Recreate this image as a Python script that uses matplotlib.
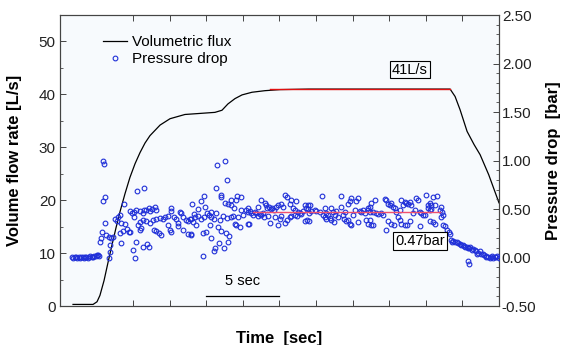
import matplotlib
matplotlib.use('Agg')
import matplotlib.pyplot as plt
from matplotlib.lines import Line2D
from matplotlib.ticker import MultipleLocator, FixedLocator, FormatStrFormatter, NullFormatter

plt.rcParams['font.family'] = ['Liberation Sans', 'DejaVu Sans']

# ---- Volumetric flux (L/s) vs time (s) ----
flux_t = [0.89, 1.50, 2.26, 2.53, 2.73, 3.01, 3.28, 3.55, 3.83, 4.10, 4.44, 4.78, 5.13, 5.47,
          5.81, 6.15, 6.84, 7.52, 8.54, 9.57, 10.59, 11.07, 11.48, 11.96, 12.44, 13.12, 14.01,
          15.04, 17.00, 19.80, 23.00, 26.66, 27.00, 27.34, 27.82, 28.30, 28.71, 29.30, 30.00]
flux_v = [0.3, 0.3, 0.3, 0.8, 2.0, 4.8, 8.2, 11.5, 14.8, 17.8, 21.2, 24.3, 26.9, 29.0,
          30.8, 32.2, 34.2, 35.4, 36.2, 36.4, 36.6, 37.0, 38.2, 39.2, 39.9, 40.4, 40.7,
          40.9, 41.0, 41.0, 41.0, 41.0, 39.6, 37.1, 33.0, 30.5, 28.6, 24.8, 19.5]
flux_fit_t = [14.35, 26.66]
flux_fit_v = [41.0, 41.0]

# ---- Pressure drop (bar) vs time (s), (t, p) pairs ----
press_base = [(0.82, 0.01), (0.91, 0.00), (1.00, 0.01), (1.09, 0.01), (1.18, 0.00), (1.27, 0.01),
              (1.36, 0.00), (1.45, 0.01), (1.54, 0.01), (1.63, 0.00), (1.72, 0.01), (1.81, 0.01),
              (1.90, 0.00), (1.99, 0.01), (2.08, 0.02), (2.17, 0.01), (2.26, 0.01), (2.35, 0.02),
              (2.44, 0.02), (2.53, 0.03), (2.62, 0.03), (2.70, 0.02)]
press_rise = [(2.94, 1.00), (3.01, 0.96), (3.05, 0.62), (2.92, 0.58), (3.10, 0.36), (2.87, 0.26),
              (2.78, 0.20), (2.71, 0.16), (3.16, 0.23), (3.33, 0.21), (3.51, 0.20), (3.62, 0.21),
              (3.44, 0.13), (3.40, 0.06), (3.33, -0.01), (3.74, 0.40), (3.90, 0.38), (3.96, 0.42),
              (4.08, 0.44), (4.19, 0.36), (4.37, 0.55), (4.46, 0.35), (4.60, 0.29), (4.72, 0.26),
              (4.19, 0.15), (4.31, 0.27), (4.12, 0.25)]
press_early = [(5.26, 0.69), (5.74, 0.72), (4.76, 0.48), (4.92, 0.46), (5.06, 0.42), (5.22, 0.49),
               (5.45, 0.48), (5.68, 0.46), (5.90, 0.49), (6.06, 0.51), (6.29, 0.50), (6.47, 0.52),
               (6.59, 0.49), (5.74, 0.49), (6.13, 0.48), (5.06, 0.47), (5.45, 0.37), (5.68, 0.39),
               (5.90, 0.38), (6.13, 0.36), (6.36, 0.39), (6.59, 0.40), (6.81, 0.41), (7.04, 0.40),
               (7.16, 0.42), (7.38, 0.43), (7.56, 0.51), (7.61, 0.48), (7.79, 0.42), (7.95, 0.40),
               (8.07, 0.36), (8.18, 0.47), (8.29, 0.46), (8.41, 0.42), (8.64, 0.39), (8.75, 0.38),
               (8.86, 0.40), (5.33, 0.34), (5.56, 0.30), (5.45, 0.28), (6.43, 0.28), (6.59, 0.27),
               (6.74, 0.25), (6.93, 0.23), (7.38, 0.34), (7.50, 0.28), (7.61, 0.26), (8.07, 0.32),
               (8.41, 0.28), (8.75, 0.24), (4.76, 0.26), (5.22, 0.16), (5.68, 0.11), (5.97, 0.14),
               (6.06, 0.11), (4.99, 0.08), (5.15, -0.01)]
press_mid = [(11.30, 1.00), (10.75, 0.95), (11.44, 0.80), (10.68, 0.72), (9.02, 0.55), (9.84, 0.63),
             (9.66, 0.58), (9.43, 0.50), (9.93, 0.52), (11.03, 0.64), (10.98, 0.62), (11.71, 0.59),
             (12.12, 0.63), (12.39, 0.62), (11.26, 0.56), (11.48, 0.55), (11.67, 0.54), (12.05, 0.59),
             (11.87, 0.51), (12.39, 0.49), (12.73, 0.49), (12.85, 0.47), (10.07, 0.46), (10.34, 0.47),
             (10.68, 0.46), (9.16, 0.45), (9.25, 0.42), (9.43, 0.43), (8.93, 0.40), (9.09, 0.37),
             (9.32, 0.34), (9.66, 0.40), (9.84, 0.42), (10.16, 0.44), (10.34, 0.42), (10.52, 0.40),
             (10.91, 0.39), (11.14, 0.43), (11.44, 0.41), (11.67, 0.42), (11.83, 0.43), (12.17, 0.42),
             (12.51, 0.44), (12.85, 0.35), (11.94, 0.35), (12.05, 0.34), (12.28, 0.31), (10.23, 0.34),
             (9.99, 0.26), (9.77, 0.25), (8.98, 0.24), (8.93, 0.23), (10.80, 0.31), (11.03, 0.27),
             (11.37, 0.25), (11.53, 0.22), (10.30, 0.20), (10.84, 0.15), (11.48, 0.16), (10.57, 0.10),
             (10.52, 0.07), (11.21, 0.10), (9.77, 0.02)]
press_plateau1 = [(12.85, 0.51), (12.96, 0.48), (13.08, 0.46), (13.19, 0.44), (13.30, 0.47), (13.42, 0.46),
                  (13.53, 0.43), (13.65, 0.45), (13.76, 0.44), (13.88, 0.46), (13.99, 0.56), (14.10, 0.54),
                  (14.17, 0.51), (14.26, 0.52), (14.40, 0.50), (14.49, 0.51), (14.63, 0.49), (14.79, 0.52),
                  (14.90, 0.54), (15.13, 0.55), (15.24, 0.52), (15.40, 0.64), (15.54, 0.62), (15.70, 0.55),
                  (15.81, 0.59), (15.92, 0.51), (16.04, 0.49), (16.15, 0.58), (16.26, 0.47), (16.38, 0.46),
                  (16.49, 0.45), (16.72, 0.54), (16.84, 0.51), (16.95, 0.54), (17.00, 0.46), (12.90, 0.35),
                  (13.53, 0.52), (13.72, 0.59), (13.94, 0.42), (14.22, 0.43), (14.33, 0.36), (14.67, 0.42),
                  (14.90, 0.34), (15.01, 0.40), (15.13, 0.43), (15.36, 0.36), (15.54, 0.39), (15.70, 0.42),
                  (15.81, 0.43), (16.04, 0.44), (16.22, 0.43), (16.61, 0.48), (16.77, 0.38), (16.91, 0.39)]
press_plateau2 = [(17.93, 0.63), (19.23, 0.63), (17.07, 0.54), (16.95, 0.50), (17.18, 0.48), (17.41, 0.49),
                  (17.52, 0.48), (17.75, 0.47), (18.09, 0.51), (18.21, 0.46), (18.32, 0.44), (18.55, 0.51),
                  (18.66, 0.47), (18.78, 0.44), (18.89, 0.48), (19.23, 0.52), (19.46, 0.47), (19.68, 0.55),
                  (19.80, 0.58), (19.91, 0.61), (20.14, 0.49), (20.26, 0.58), (20.37, 0.61), (20.48, 0.48),
                  (20.60, 0.47), (20.71, 0.49), (20.82, 0.46), (21.05, 0.51), (21.17, 0.47), (17.00, 0.38),
                  (17.98, 0.44), (18.09, 0.42), (18.21, 0.40), (18.43, 0.41), (18.55, 0.39), (18.72, 0.37),
                  (19.00, 0.42), (19.34, 0.44), (19.41, 0.40), (19.57, 0.38), (19.68, 0.39), (19.80, 0.35),
                  (19.91, 0.34), (20.03, 0.44), (20.37, 0.37), (20.94, 0.39), (21.05, 0.35)]
press_plateau3 = [(21.51, 0.59), (21.28, 0.56), (21.17, 0.52), (21.05, 0.49), (21.39, 0.47), (21.62, 0.46),
                  (21.74, 0.45), (21.96, 0.46), (22.08, 0.44), (22.19, 0.60), (22.31, 0.59), (22.42, 0.55),
                  (22.53, 0.54), (22.65, 0.56), (22.76, 0.52), (22.87, 0.51), (22.99, 0.47), (23.21, 0.49),
                  (23.33, 0.59), (23.44, 0.54), (23.56, 0.57), (23.67, 0.56), (23.78, 0.55), (23.90, 0.57),
                  (24.01, 0.54), (24.13, 0.46), (24.24, 0.49), (24.35, 0.61), (24.47, 0.59), (24.58, 0.47),
                  (24.70, 0.46), (24.81, 0.44), (25.04, 0.64), (25.15, 0.54), (25.27, 0.49), (21.17, 0.39),
                  (21.28, 0.34), (21.39, 0.34), (22.31, 0.28), (22.42, 0.38), (22.65, 0.35), (22.82, 0.34),
                  (23.10, 0.42), (23.21, 0.39), (23.33, 0.35), (23.56, 0.34), (23.74, 0.34), (23.90, 0.38),
                  (24.58, 0.32), (24.92, 0.44)]
press_fall = [(25.79, 0.63), (25.50, 0.62), (25.27, 0.56), (25.38, 0.54), (25.61, 0.54), (26.01, 0.52),
              (25.15, 0.51), (25.33, 0.50), (25.95, 0.49), (26.11, 0.47), (26.18, 0.44), (26.01, 0.42),
              (25.27, 0.38), (25.50, 0.37), (25.66, 0.35), (26.18, 0.34), (26.34, 0.32), (26.47, 0.28),
              (26.56, 0.26), (26.63, 0.24), (26.75, 0.18), (26.86, 0.17), (27.02, 0.16), (27.20, 0.15),
              (27.38, 0.13), (27.54, 0.13), (27.71, 0.11), (27.89, 0.10), (28.05, 0.11), (28.23, 0.09),
              (28.40, 0.07), (28.57, 0.05), (28.68, 0.07), (28.80, 0.04), (28.97, 0.03), (29.14, 0.02),
              (29.25, 0.01), (29.43, 0.01), (29.59, 0.00), (29.71, 0.01), (29.88, 0.02), (29.97, -0.01),
              (27.89, -0.04), (27.94, -0.07), (26.80, 0.16), (27.11, 0.16), (27.32, 0.14), (27.63, 0.12),
              (27.80, 0.11), (27.98, 0.10), (28.17, 0.08), (28.34, 0.08), (28.52, 0.04), (28.91, 0.04),
              (29.08, 0.01), (29.36, 0.00), (29.54, 0.02), (29.82, 0.01)]
press_fit_t = [13.2, 26.0]
press_fit_p = [0.47, 0.47]

xticks = [5, 7.5, 10, 12.5, 15, 17.5, 20, 22.5, 25, 27.5]
left_yticks = [0, 10, 20, 30, 40, 50]
right_yticks = [-0.5, 0.0, 0.5, 1.0, 1.5, 2.0, 2.5]

segments = [press_base, press_rise, press_early, press_mid,
            press_plateau1, press_plateau2, press_plateau3, press_fall]
press_t = [pt[0] for seg in segments for pt in seg]
press_p = [pt[1] for seg in segments for pt in seg]

BLUE = '#1f2fd8'
SPINE = '#444444'

fig = plt.figure(figsize=(5.68, 3.45), dpi=100)
ax = fig.add_axes([0.1056, 0.113, 0.7729, 0.8435])
ax.set_facecolor('#f7fafd')
ax2 = ax.twinx()

ax.plot(flux_t, flux_v, color='black', lw=0.9, zorder=3)
ax.plot(flux_fit_t, flux_fit_v, color='#e01010', lw=1.0, zorder=4)

ax2.plot(press_t, press_p, linestyle='none', marker='o', ms=3.4, mfc='none',
         mec=BLUE, mew=0.8, zorder=3)
ax2.plot(press_fit_t, press_fit_p, color='#f0506e', lw=1.0, zorder=4)

ax.set_xlim(0, 30)
ax.set_ylim(0, 55)
ax2.set_ylim(-0.5, 2.5)

ax.xaxis.set_major_locator(FixedLocator(xticks))
ax.xaxis.set_major_formatter(NullFormatter())
ax.yaxis.set_major_locator(FixedLocator(left_yticks))
ax.yaxis.set_minor_locator(MultipleLocator(5))
ax2.yaxis.set_major_locator(FixedLocator(right_yticks))
ax2.yaxis.set_minor_locator(MultipleLocator(0.1))
ax2.yaxis.set_major_formatter(FormatStrFormatter('%.2f'))

ax.tick_params(axis='x', which='both', direction='in', top=True, length=4, width=0.7, color=SPINE)
ax.tick_params(axis='y', which='major', direction='in', length=4, width=0.7, color=SPINE,
               labelsize=11, pad=3, labelcolor='#222222')
ax.tick_params(axis='y', which='minor', direction='in', length=2, width=0.6, color=SPINE)
ax2.tick_params(axis='y', which='major', direction='in', length=4, width=0.7, color=SPINE,
                labelsize=11, pad=2, labelcolor='#222222')
ax2.tick_params(axis='y', which='minor', direction='in', length=2, width=0.6, color=SPINE)

for a in (ax, ax2):
    for s in a.spines.values():
        s.set_color(SPINE)
        s.set_linewidth(0.8)

ax.set_ylabel('Volume flow rate [L/s]', fontsize=12, fontweight='bold')
ax.yaxis.set_label_coords(-0.087, 0.5)
ax2.set_ylabel('Pressure drop  [bar]', fontsize=12, fontweight='bold', rotation=90)
ax2.yaxis.set_label_coords(1.108, 0.5)
ax.set_xlabel('Time  [sec]', fontsize=12, fontweight='bold')
ax.xaxis.set_label_coords(0.5, -0.085)

# scale bar
ax.plot([10, 15], [1.9, 1.9], color='black', lw=0.9)
ax.text(12.5, 3.4, '5 sec', ha='center', va='bottom', fontsize=10.5)

# annotations
ax.text(23.92, 44.7, '41L/s', ha='center', va='center', fontsize=10.5,
        bbox=dict(boxstyle='square,pad=0.12', fc='none', ec='black', lw=0.8))
ax2.text(24.6, 0.17, '0.47bar', ha='center', va='center', fontsize=10.5, zorder=6,
         bbox=dict(boxstyle='square,pad=0.12', fc='white', ec='black', lw=0.8))

handles = [Line2D([], [], color='black', lw=0.9),
           Line2D([], [], linestyle='none', marker='o', ms=3.4, mfc='none', mec=BLUE, mew=0.8)]
ax2.legend(handles, ['Volumetric flux', 'Pressure drop'], loc='upper left',
           bbox_to_anchor=(0.098, 0.93), frameon=False, fontsize=11, handlelength=1.6,
           handletextpad=0.3, labelspacing=0.2, borderpad=0, borderaxespad=0)

fig.savefig('out.png', dpi=100)
